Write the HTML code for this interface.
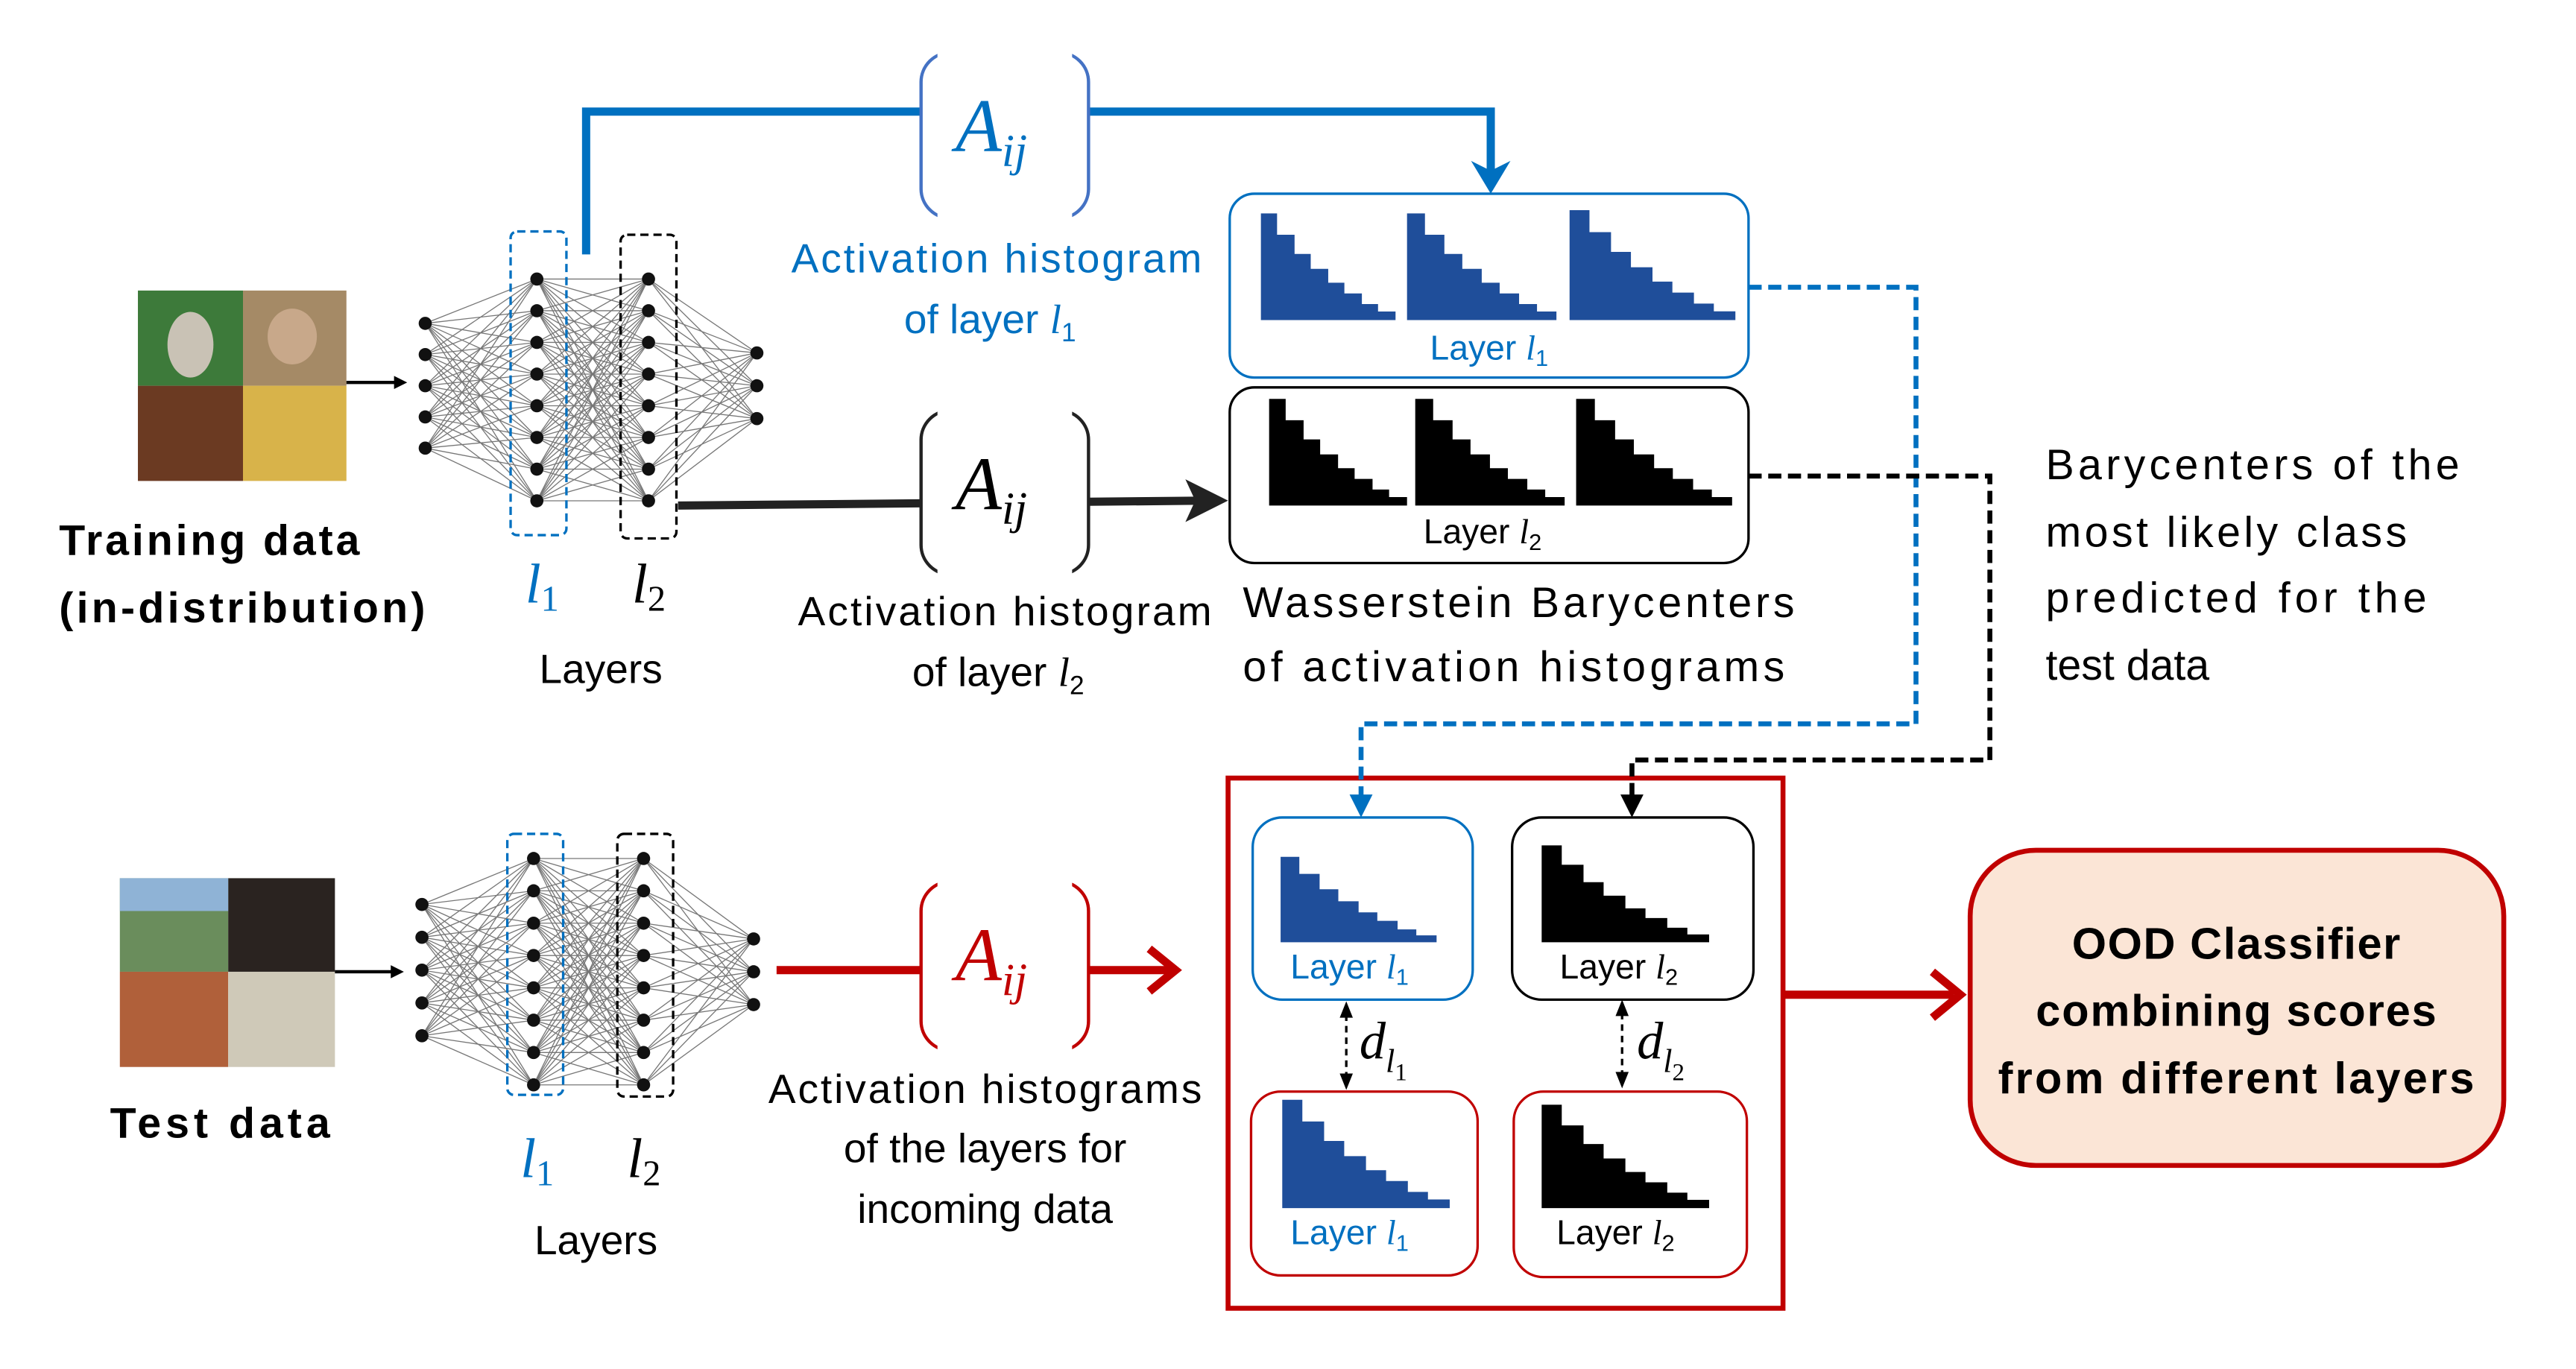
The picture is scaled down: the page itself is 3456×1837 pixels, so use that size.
<!DOCTYPE html>
<html><head><meta charset="utf-8"><style>
html,body{margin:0;padding:0;background:#fff;}
svg{display:block;}
text{font-family:"Liberation Sans",sans-serif;}
.it{font-family:"Liberation Serif",serif;font-style:italic;}
</style></head><body>
<svg id="s" width="3456" height="1837" viewBox="0 0 1569 834" preserveAspectRatio="none" xmlns="http://www.w3.org/2000/svg">
<defs>
<path id="h" d="M0,100 V0 H12 V20 H25 V38 H37 V52 H50 V65 H62 V75 H75 V85 H87 V92 H100 V100 Z"/>
<marker id="ab" markerWidth="8" markerHeight="8" refX="6" refY="4" orient="auto" markerUnits="userSpaceOnUse"><path d="M0,0 L8,4 L0,8 Z" fill="#000"/></marker>
</defs>
<g id="net"></g>

<!-- training images -->
<rect x="84" y="177" width="64" height="58" fill="#3d7a3a"/><rect x="148" y="177" width="63" height="58" fill="#a58a66"/>
<rect x="84" y="235" width="64" height="58" fill="#6b3a22"/><rect x="148" y="235" width="63" height="58" fill="#d8b34a"/>
<ellipse cx="116" cy="210" rx="14" ry="20" fill="#c9c2b5"/><ellipse cx="178" cy="205" rx="15" ry="17" fill="#c8a88a"/>
<line x1="211" y1="233" x2="246" y2="233" stroke="#000" stroke-width="2" marker-end="url(#ab)"/>
<!-- test images -->
<rect x="73" y="535" width="66" height="57" fill="#6a8d5c"/><rect x="139" y="535" width="65" height="57" fill="#2a2320"/>
<rect x="73" y="592" width="66" height="58" fill="#b0603a"/><rect x="139" y="592" width="65" height="58" fill="#cfc9b8"/>
<rect x="73" y="535" width="66" height="20" fill="#8fb3d6"/>
<line x1="204" y1="592" x2="244" y2="592" stroke="#000" stroke-width="2" marker-end="url(#ab)"/>

<!-- dashed layer boxes -->
<rect x="311" y="141" width="34" height="185" rx="4" fill="none" stroke="#0070c0" stroke-width="1.5" stroke-dasharray="5,3"/>
<rect x="378" y="143" width="34" height="185" rx="4" fill="none" stroke="#000" stroke-width="1.5" stroke-dasharray="5,3"/>
<rect x="309" y="508" width="34" height="159" rx="4" fill="none" stroke="#0070c0" stroke-width="1.5" stroke-dasharray="5,3"/>
<rect x="376" y="508" width="34" height="160" rx="4" fill="none" stroke="#000" stroke-width="1.5" stroke-dasharray="5,3"/>

<!-- blue top connector -->
<polyline points="357,155 357,68 908,68 908,108" fill="none" stroke="#0070c0" stroke-width="5"/>
<path d="M896,98 L908,118 L920,98 L908,104 Z" fill="#0070c0"/>
<!-- black connector -->
<line x1="413" y1="308" x2="735" y2="305" stroke="#222" stroke-width="5"/>
<path d="M722,292 L748,305 L722,318 L728,305 Z" fill="#222"/>
<!-- red connector -->
<line x1="473" y1="591" x2="714" y2="591" stroke="#c00000" stroke-width="5"/>
<polyline points="700,578 716,591 700,604" fill="none" stroke="#c00000" stroke-width="5"/>

<!-- Aij boxes -->
<g fill="#fff" stroke-width="2">
<rect x="561" y="32" width="102" height="101" rx="18" stroke="#4472c4"/>
<rect x="561" y="250" width="102" height="100" rx="18" stroke="#222"/>
<rect x="561" y="537" width="102" height="103" rx="18" stroke="#c00000"/>
</g>
<rect x="571" y="30" width="82" height="105" fill="#fff"/>
<rect x="571" y="248" width="82" height="104" fill="#fff"/>
<rect x="571" y="535" width="82" height="107" fill="#fff"/>
<text class="it" x="582" y="92" font-size="46" fill="#0070c0">A<tspan font-size="28" dy="9">ij</tspan></text>
<text class="it" x="582" y="310" font-size="46" fill="#000">A<tspan font-size="28" dy="9">ij</tspan></text>
<text class="it" x="582" y="597" font-size="46" fill="#c00000">A<tspan font-size="28" dy="9">ij</tspan></text>

<!-- labels -->
<g font-size="25" text-anchor="middle">
<text x="607" y="166" fill="#0070c0" textLength="250">Activation histogram</text>
<text x="603" y="203" fill="#0070c0">of layer <tspan class="it">l</tspan><tspan font-size="16" dy="5">1</tspan></text>
<text x="612" y="381" textLength="252">Activation histogram</text>
<text x="608" y="418">of layer <tspan class="it">l</tspan><tspan font-size="16" dy="5">2</tspan></text>
<text x="600" y="672" textLength="264">Activation histograms</text>
<text x="600" y="708">of the layers for</text>
<text x="600" y="745">incoming data</text>
<text x="366" y="416">Layers</text>
<text x="363" y="764">Layers</text>
</g>
<g font-size="26">
<text x="757" y="376" textLength="336">Wasserstein Barycenters</text>
<text x="757" y="415" textLength="330">of activation histograms</text>
<text x="1246" y="292" textLength="252">Barycenters of the</text>
<text x="1246" y="333" textLength="220">most likely class</text>
<text x="1246" y="373" textLength="232">predicted for the</text>
<text x="1246" y="414">test data</text>
</g>
<g font-size="26" font-weight="bold">
<text x="36" y="338" textLength="183">Training data</text>
<text x="36" y="379" textLength="223">(in-distribution)</text>
<text x="67" y="693" textLength="134">Test data</text>
</g>
<g class="it" font-size="34">
<text x="320" y="367" fill="#0070c0" class="it">l<tspan font-size="22" dy="5" font-style="normal">1</tspan></text>
<text x="385" y="367" class="it">l<tspan font-size="22" dy="5" font-style="normal">2</tspan></text>
<text x="317" y="717" fill="#0070c0" class="it">l<tspan font-size="22" dy="5" font-style="normal">1</tspan></text>
<text x="382" y="717" class="it">l<tspan font-size="22" dy="5" font-style="normal">2</tspan></text>
</g>

<!-- barycenter boxes -->
<rect x="749" y="118" width="316" height="112" rx="15" fill="#fff" stroke="#0070c0" stroke-width="1.5"/>
<rect x="749" y="236" width="316" height="107" rx="15" fill="#fff" stroke="#000" stroke-width="1.5"/>
<g fill="#1f4e9a">
<use href="#h" transform="translate(768,130) scale(0.82,0.65)"/>
<use href="#h" transform="translate(857,130) scale(0.91,0.65)"/>
<use href="#h" transform="translate(956,128) scale(1.01,0.67)"/>
</g>
<g fill="#000">
<use href="#h" transform="translate(773,243) scale(0.84,0.65)"/>
<use href="#h" transform="translate(862,243) scale(0.91,0.65)"/>
<use href="#h" transform="translate(960,243) scale(0.95,0.65)"/>
</g>
<text x="907" y="219" font-size="21" text-anchor="middle" fill="#0070c0">Layer <tspan class="it">l</tspan><tspan font-size="14" dy="4">1</tspan></text>
<text x="903" y="331" font-size="21" text-anchor="middle">Layer <tspan class="it">l</tspan><tspan font-size="14" dy="4">2</tspan></text>

<!-- red container -->
<rect x="748" y="474" width="338" height="323" fill="#fff" stroke="#c00000" stroke-width="3"/>
<rect x="763" y="498" width="134" height="111" rx="18" fill="#fff" stroke="#0070c0" stroke-width="1.5"/>
<rect x="921" y="498" width="147" height="111" rx="18" fill="#fff" stroke="#000" stroke-width="1.5"/>
<rect x="762" y="665" width="138" height="112" rx="18" fill="#fff" stroke="#c00000" stroke-width="1.5"/>
<rect x="922" y="665" width="142" height="113" rx="18" fill="#fff" stroke="#c00000" stroke-width="1.5"/>
<use href="#h" fill="#1f4e9a" transform="translate(780,522) scale(0.95,0.52)"/>
<use href="#h" fill="#000" transform="translate(939,515) scale(1.02,0.59)"/>
<use href="#h" fill="#1f4e9a" transform="translate(781,670) scale(1.02,0.66)"/>
<use href="#h" fill="#000" transform="translate(939,673) scale(1.02,0.63)"/>
<g font-size="21" text-anchor="middle">
<text x="822" y="596" fill="#0070c0">Layer <tspan class="it">l</tspan><tspan font-size="14" dy="4">1</tspan></text>
<text x="986" y="596">Layer <tspan class="it">l</tspan><tspan font-size="14" dy="4">2</tspan></text>
<text x="822" y="758" fill="#0070c0">Layer <tspan class="it">l</tspan><tspan font-size="14" dy="4">1</tspan></text>
<text x="984" y="758">Layer <tspan class="it">l</tspan><tspan font-size="14" dy="4">2</tspan></text>
</g>
<line x1="820" y1="618" x2="820" y2="656" stroke="#000" stroke-width="1.5" stroke-dasharray="4,3"/>
<path d="M816,620 L820,610 L824,620 Z M816,654 L820,664 L824,654 Z" fill="#000"/>
<line x1="988" y1="617" x2="988" y2="655" stroke="#000" stroke-width="1.5" stroke-dasharray="4,3"/>
<path d="M984,619 L988,609 L992,619 Z M984,653 L988,663 L992,653 Z" fill="#000"/>
<text class="it" x="828" y="645" font-size="32">d<tspan font-size="20" dy="8">l</tspan><tspan font-size="15" dy="5" font-style="normal">1</tspan></text>
<text class="it" x="997" y="645" font-size="32">d<tspan font-size="20" dy="8">l</tspan><tspan font-size="15" dy="5" font-style="normal">2</tspan></text>

<!-- dashed connectors (on top) -->
<polyline points="1065,175 1167,175 1167,441 829,441 829,486" fill="none" stroke="#0070c0" stroke-width="3" stroke-dasharray="8,4"/>
<path d="M822,484 L829,498 L836,484 Z" fill="#0070c0"/>
<polyline points="1065,290 1212,290 1212,463 994,463 994,486" fill="none" stroke="#000" stroke-width="3" stroke-dasharray="8,4"/>
<path d="M987,484 L994,498 L1001,484 Z" fill="#000"/>

<!-- to OOD -->
<line x1="1087" y1="606" x2="1190" y2="606" stroke="#c00000" stroke-width="5"/>
<polyline points="1177,592 1194,606 1177,620" fill="none" stroke="#c00000" stroke-width="5"/>
<rect x="1200" y="518" width="325" height="192" rx="40" fill="#fbe5d6" stroke="#c00000" stroke-width="3"/>
<g font-size="27" font-weight="bold" text-anchor="middle">
<text x="1362" y="584" textLength="200">OOD Classifier</text>
<text x="1362" y="625" textLength="244">combining scores</text>
<text x="1362" y="666" textLength="290">from different layers</text>
</g>
</svg>
<script>
(function(){
var g=document.getElementById('net'),ns='http://www.w3.org/2000/svg';
function net(xs,ys){
 for(var L=0;L<xs.length-1;L++)for(var i=0;i<ys[L].length;i++)for(var j=0;j<ys[L+1].length;j++){
  var l=document.createElementNS(ns,'line');l.setAttribute('x1',xs[L]);l.setAttribute('y1',ys[L][i]);l.setAttribute('x2',xs[L+1]);l.setAttribute('y2',ys[L+1][j]);
  l.setAttribute('stroke','#777');l.setAttribute('stroke-width','0.6');g.appendChild(l);}
 for(var L=0;L<xs.length;L++)for(var i=0;i<ys[L].length;i++){var c=document.createElementNS(ns,'circle');c.setAttribute('cx',xs[L]);c.setAttribute('cy',ys[L][i]);c.setAttribute('r','4');c.setAttribute('fill','#111');g.appendChild(c);}
}
function r(a,n,s){var o=[];for(var i=0;i<n;i++)o.push(a+i*s);return o;}
net([259,327,395,461],[r(197,5,19),r(170,8,19.3),r(170,8,19.3),r(215,3,20)]);
net([257,325,392,459],[r(551,5,20),r(523,8,19.7),r(523,8,19.7),r(572,3,20)]);
})();
</script>
</body></html>
